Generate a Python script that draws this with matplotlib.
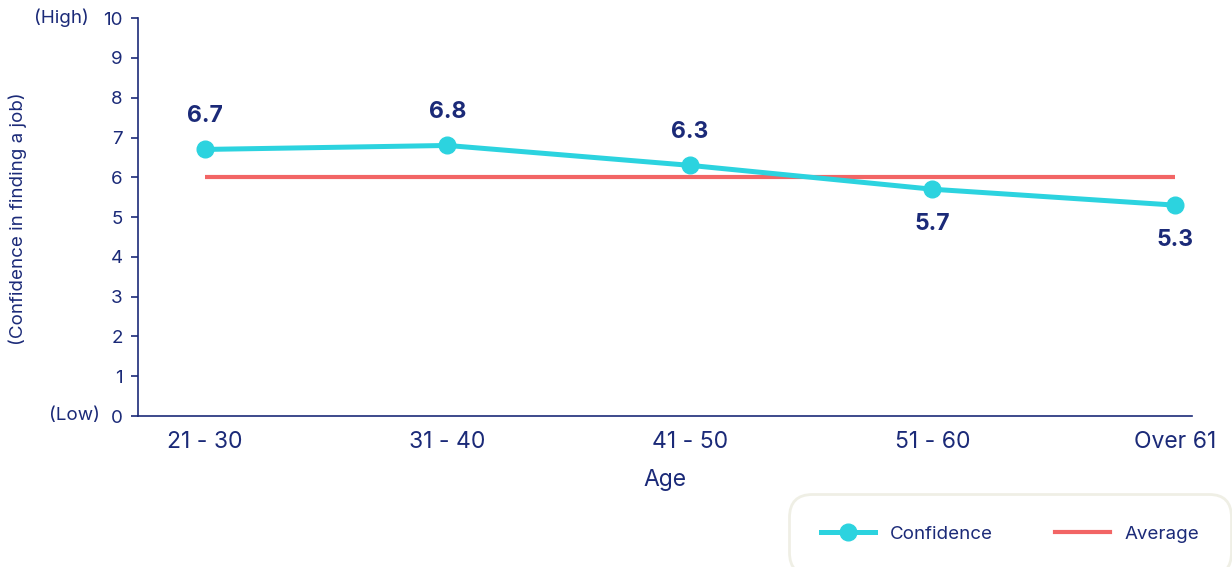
import matplotlib.pyplot as plt
from matplotlib.lines import Line2D

plt.rcParams['font.family'] = ['Inter', 'DejaVu Sans']

# data
ages = ["21 - 30", "31 - 40", "41 - 50", "51 - 60", "Over 61"]
confidence = [6.7, 6.8, 6.3, 5.7, 5.3]
average = [6.0, 6.0, 6.0, 6.0, 6.0]
label_above = [True, True, True, False, False]

navy = '#1b2a78'
cyan = '#2cd3df'
red = '#f26565'

fig = plt.figure(figsize=(12.32, 5.67), dpi=100)
ax = fig.add_axes([0.112, 0.2663, 0.8555, 0.7017])

x = list(range(len(ages)))
ax.plot(x, average, color=red, lw=3.0, solid_capstyle='butt', zorder=2)
ax.plot(x, confidence, color=cyan, lw=3.6, marker='o', markersize=12, zorder=3)

for xi, v, up in zip(x, confidence, label_above):
    off = 24 if up else -25
    ax.annotate(f"{v}", (xi, v), xytext=(0, off), textcoords='offset points',
                ha='center', va='center', fontsize=16.5, fontweight='bold', color=navy)

ax.set_xlim(-0.276, 4.07)
ax.set_ylim(0, 10)
ax.set_yticks(range(0, 11))
ax.set_xticks(x)
ax.set_xticklabels(ages)

for s in ['top', 'right']:
    ax.spines[s].set_visible(False)
for s in ['left', 'bottom']:
    ax.spines[s].set_color(navy)
    ax.spines[s].set_linewidth(1.2)

ax.tick_params(axis='y', colors=navy, labelsize=13.5, length=5, width=1.2, pad=6)
ax.tick_params(axis='x', colors=navy, labelsize=16.5, length=0, pad=11)

ax.set_xlabel("Age", color=navy, fontsize=16.5, labelpad=11)
fig.text(18 / 1232, 1 - 219 / 567, "(Confidence in finding a job)", rotation=90,
         ha='center', va='center', color=navy, fontsize=13.5)
fig.text(89 / 1232, 1 - 18 / 567, "(High)", ha='right', va='center', color=navy, fontsize=13.5)
fig.text(100 / 1232, 1 - 416 / 567, "(Low)", ha='right', va='center', color=navy, fontsize=13.5)

handles = [
    Line2D([], [], color=cyan, lw=3.6, marker='o', markersize=12),
    Line2D([], [], color=red, lw=3.0),
]
leg = fig.legend(handles, ["Confidence", "Average"], loc='upper left',
                 bbox_to_anchor=(789 / 1232, 1 - 494 / 567), ncol=2,
                 frameon=True, fancybox=True, fontsize=13.5, labelcolor=navy,
                 handlelength=2.9, columnspacing=3.3, borderpad=1.7,
                 handletextpad=0.8, borderaxespad=0)
leg.get_frame().set_edgecolor('#ecebdf')
leg.get_frame().set_linewidth(2)
leg.get_frame().set_boxstyle('round', pad=0, rounding_size=1.2)

fig.savefig('out.png', dpi=100)
